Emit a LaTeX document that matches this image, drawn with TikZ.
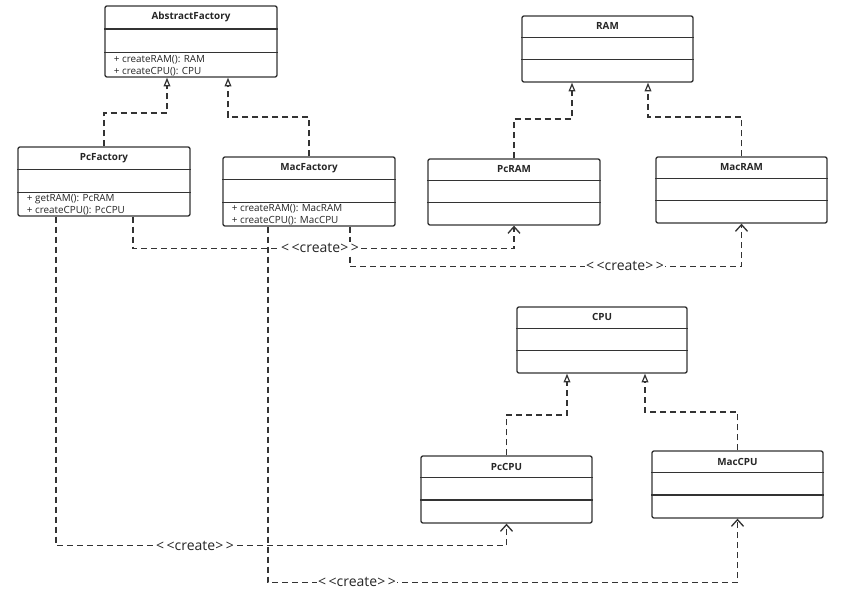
\documentclass[tikz,border=0pt]{standalone}
\usepackage{fontspec}
\setmainfont{Open Sans}
\usetikzlibrary{arrows.meta}
\definecolor{ln}{HTML}{333333}
\definecolor{tx}{HTML}{262626}
\tikzset{
  cls/.style={draw=ln, line width=1pt, rounded corners=1.5pt, inner sep=0pt, fill=white},
  divider/.style={draw=ln, line width=0.9pt},
  ctitle/.style={font=\fontsize{7.4}{8}\selectfont\bfseries, text=tx, inner sep=0pt},
  meth/.style={font=\fontsize{7.4}{9}\selectfont, text=tx, inner sep=0pt, align=left, anchor=west},
  realize/.style={draw=ln, line width=1pt, dash pattern=on 4.5pt off 3pt, -{Triangle[open,length=6.5pt,width=5pt,line width=0.9pt]}},
  createln/.style={draw=ln, line width=1pt, dash pattern=on 4.5pt off 3pt, -{Straight Barb[length=5pt,width=9pt,line width=1pt]}},
  crlabel/.style={font=\fontsize{10.5}{11}\selectfont, text=tx, fill=white, inner sep=1pt}
}
\newcommand\umlclass[7]{%
  \node[cls, minimum width={(#5-#3)*0.75pt}, minimum height={(#6-#4)*0.75pt}] (#1) at ({(#3+#5)/2},{(#4+#6)/2}) {};
  \draw[divider] ([yshift={-(#6-#4)*0.25pt}]#1.north west) -- ([yshift={-(#6-#4)*0.25pt}]#1.north east);
  \draw[divider] ([yshift={-(#6-#4)*0.5pt}]#1.north west) -- ([yshift={-(#6-#4)*0.5pt}]#1.north east);
  \node[ctitle] (#1-t) at ([yshift={-(#6-#4)*0.125pt}]#1.north) {#2};
  \node[meth] (#1-m) at ([xshift=7pt, yshift={(#6-#4)*0.125pt}]#1.west |- #1.south) {#7};
}
\newcommand\crt{<\kern2pt<create>\kern2pt>}
\begin{document}
\begin{tikzpicture}[x=0.75pt,y=-0.75pt]
\useasboundingbox (0,0) rectangle (865,595);
\fill[white] (0,0) rectangle (865,595);

\umlclass{af}{AbstractFactory}{105}{6}{277}{77}{+ createRAM(): RAM\\+ createCPU(): CPU}
\umlclass{pcf}{PcFactory}{18}{147}{190}{216}{+ getRAM(): PcRAM\\+ createCPU(): PcCPU}
\umlclass{mcf}{MacFactory}{223}{157}{395}{226}{+ createRAM(): MacRAM\\+ createCPU(): MacCPU}
\umlclass{ram}{RAM}{522}{16}{693}{82}{}
\umlclass{pcram}{PcRAM}{428}{159}{600}{225}{}
\umlclass{macram}{MacRAM}{656}{157}{827}{223}{}
\umlclass{cpu}{CPU}{517}{307}{687}{373}{}
\umlclass{pccpu}{PcCPU}{421}{456}{592}{523}{}
\umlclass{maccpu}{MacCPU}{652}{451}{823}{518}{}

% realization connectors
\coordinate (b1) at (167,113);
\coordinate (b2) at (228,117);
\coordinate (b3) at (572,119);
\coordinate (b4) at (648,117);
\coordinate (b5) at (567,415);
\coordinate (b6) at (645,412);
\draw[realize] (pcf.north) |- (b1) -- (b1 |- af.south);
\draw[realize] (mcf.north) |- (b2) -- (b2 |- af.south);
\draw[realize] (pcram.north) |- (b3) -- (b3 |- ram.south);
\draw[realize] (macram.north) |- (b4) -- (b4 |- ram.south);
\draw[realize] (pccpu.north) |- (b5) -- (b5 |- cpu.south);
\draw[realize] (maccpu.north) |- (b6) -- (b6 |- cpu.south);

% create dependencies
\draw[createln] ([xshift=21.75pt]pcf.south) |- ([yshift=-17.25pt]pcram.south) -- (pcram.south);
\draw[createln] ([xshift=30.75pt]mcf.south) |- ([yshift=-32.25pt]macram.south) -- (macram.south);
\draw[createln] ([xshift=-36pt]pcf.south) |- ([yshift=-16.5pt]pccpu.south) -- (pccpu.south);
\draw[createln] ([xshift=-30.75pt]mcf.south) |- ([yshift=-48pt]maccpu.south) -- (maccpu.south);

\node[crlabel] (l1) at (320,248) {\crt};
\node[crlabel] (l2) at (625,266) {\crt};
\node[crlabel] (l3) at (195,546) {\crt};
\node[crlabel] (l4) at (357,582) {\crt};
\end{tikzpicture}
\end{document}
